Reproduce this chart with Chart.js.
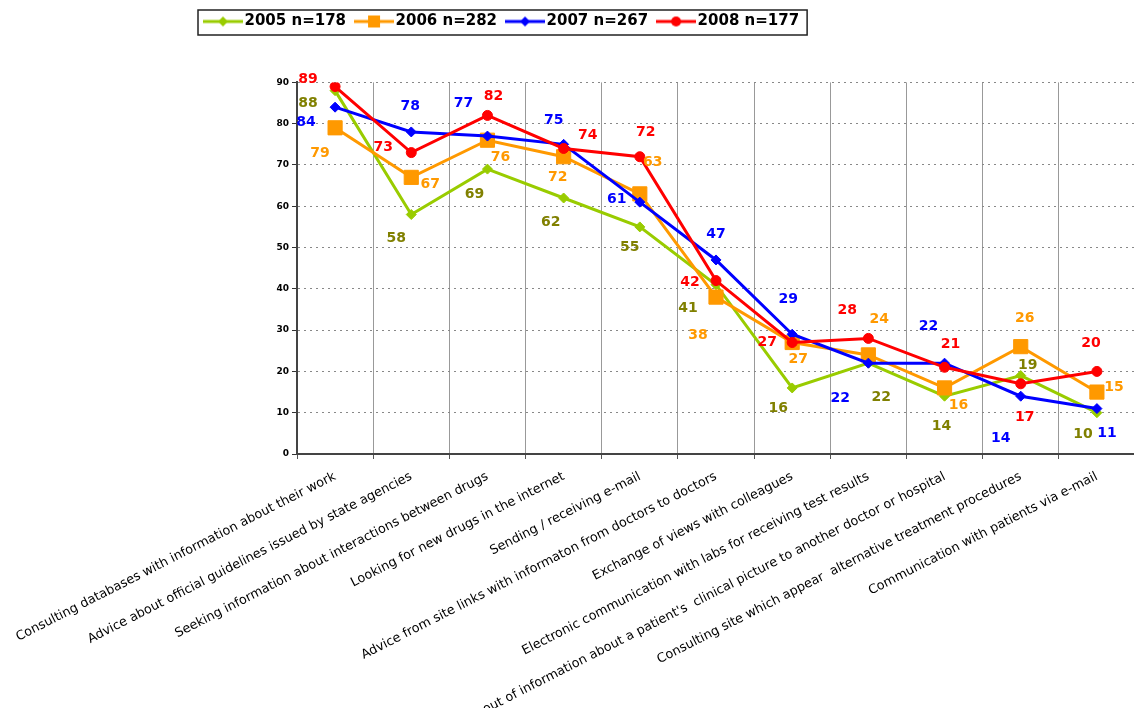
<!DOCTYPE html>
<html>
<head>
<meta charset="utf-8">
<script src="https://cdn.jsdelivr.net/npm/chart.js@4/dist/chart.umd.min.js"></script>
<style>
  html, body { margin: 0; padding: 0; background: #fff; overflow: hidden; }
  #wrap { width: 1146px; height: 708px; }
</style>
</head>
<body>
<div id="wrap"><canvas id="myChart" width="1146" height="708"></canvas></div>
<script>
// DATA
const categories = [
    'Consulting databases with information about their work',
    'Advice about official guidelines issued by state agencies',
    'Seeking information about interactions between drugs',
    'Looking for new drugs in the internet',
    'Sending / receiving e-mail',
    'Advice from site links with informaton from doctors to doctors',
    'Exchange of views with colleagues',
    'Electronic communication with labs for receiving test results',
    "Sending out of information about a patient's  clinical picture to another doctor or hospital",
    'Consulting site which appear  alternative treatment procedures',
    'Communication with patients via e-mail'
];
const seriesNames = ['2005 n=178', '2006 n=282', '2007 n=267', '2008 n=177'];
const values2005 = [88, 58, 69, 62, 55, 41, 16, 22, 14, 19, 10];
const values2006 = [79, 67, 76, 72, 63, 38, 27, 24, 16, 26, 15];
const values2007 = [84, 78, 77, 75, 61, 47, 29, 22, 22, 14, 11];
const values2008 = [89, 73, 82, 74, 72, 42, 27, 28, 21, 17, 20];
const yTickValues = [0, 10, 20, 30, 40, 50, 60, 70, 80, 90];

// estilos
const lineColors = ['#99CC00', '#FF9900', '#0000FF', '#FF0000'];
const labelColors = ['#808000', '#FF9900', '#0000FF', '#FF0000'];
const markers = ['rectRot', 'rect', 'rectRot', 'circle'];
const markerSizes = [5, 10, 5, 5];

// posicion de cada etiqueta respecto a su punto (dx, dy)
const labelOffsets = [
    [[-27, 13], [-15, 24], [-13, 25], [-13, 24], [-10, 20], [-28, 24], [-14, 20], [13, 34], [-3, 30], [7, -10], [-14, 22]],
    [[-15, 26], [19, 7], [13, 17], [-6, 21], [13, -32], [-18, 38], [6, 17], [11, -36], [14, 17], [4, -28], [17, -5]],
    [[-29, 15], [-1, -26], [-24, -33], [-10, -24], [-23, -3], [0, -26], [-4, -35], [-28, 35], [-16, -37], [-20, 42], [10, 25]],
    [[-27, -7], [-28, -5], [6, -19], [24, -13], [6, -24], [-26, 2], [-25, 0], [-21, -28], [6, -23], [4, 34], [-6, -28]]
];

// icono de la leyenda: linea con marcador
const makeLegendIcon = (color, style) => {
    const c = document.createElement('canvas');
    c.width = 40;
    c.height = 16;
    const g = c.getContext('2d');
    g.strokeStyle = color;
    g.fillStyle = color;
    g.lineWidth = 3;
    g.beginPath();
    g.moveTo(0, 8);
    g.lineTo(40, 8);
    g.stroke();
    g.beginPath();
    if (style === 'rect') {
        g.rect(14, 2, 12, 12);
    } else if (style === 'circle') {
        g.arc(20, 8, 5, 0, Math.PI * 2);
    } else {
        g.moveTo(20, 3);
        g.lineTo(25, 8);
        g.lineTo(20, 13);
        g.lineTo(15, 8);
        g.closePath();
    }
    g.fill();
    return c;
};
const legendIcons = lineColors.map((col, i) => makeLegendIcon(col, markers[i]));

const valueLabels = {
    id: 'valueLabels',
    afterDatasetsDraw(chart) {
        const ctx = chart.ctx;
        ctx.save();
        ctx.font = 'bold 14px "DejaVu Sans"';
        ctx.textAlign = 'center';
        ctx.textBaseline = 'middle';
        chart.data.datasets.forEach((ds, i) => {
            const meta = chart.getDatasetMeta(i);
            ctx.fillStyle = labelColors[i];
            meta.data.forEach((pt, j) => {
                const [dx, dy] = labelOffsets[i][j];
                ctx.fillText(ds.data[j], pt.x + dx, pt.y + dy);
            });
        });
        ctx.restore();
    }
};

const legendBox = {
    id: 'legendBox',
    afterLayout(chart) {
        // mover la leyenda hacia la izquierda como en el original
        chart.legend.left = 195;
    },
    afterDraw(chart) {
        const hits = chart.legend.legendHitBoxes;
        if (!hits || !hits.length) return;
        const first = hits[0];
        const last = hits[hits.length - 1];
        const ctx = chart.ctx;
        ctx.save();
        ctx.strokeStyle = '#222';
        ctx.lineWidth = 1.5;
        ctx.strokeRect(first.left - 11, first.top - 4, last.left + last.width + 8 - (first.left - 11), first.height + 10);
        ctx.restore();
    }
};

const makeDataset = (i, data) => ({
    label: seriesNames[i],
    data,
    borderColor: lineColors[i],
    backgroundColor: lineColors[i],
    pointBackgroundColor: lineColors[i],
    pointBorderColor: lineColors[i],
    pointStyle: markers[i],
    pointRadius: markerSizes[i],
    pointBorderWidth: 1,
    borderWidth: 3,
    tension: 0,
    order: 4 - i
});

const ctx = document.querySelector('#myChart');
const chart = new Chart(ctx, {
    type: 'line',
    data: {
        labels: categories,
        datasets: [
            makeDataset(0, values2005),
            makeDataset(1, values2006),
            makeDataset(2, values2007),
            makeDataset(3, values2008)
        ]
    },
    options: {
        responsive: false,
        animation: false,
        layout: { padding: 0 },
        scales: {
            x: {
                offset: true,
                grid: {
                    offset: true,
                    color: '#999',
                    tickColor: '#555',
                    tickLength: 5
                },
                border: { color: '#444', width: 2 },
                ticks: {
                    autoSkip: false,
                    minRotation: 27,
                    maxRotation: 27,
                    padding: 10,
                    color: '#000',
                    font: { family: '"DejaVu Sans"', size: 12.8 }
                },
                afterFit: (scale) => {
                    scale.height = 254;
                    scale.paddingLeft = 0; // que la primera etiqueta no empuje el eje
                }
            },
            y: {
                min: 0,
                max: 90,
                afterBuildTicks: (scale) => {
                    scale.ticks = yTickValues.map(v => ({ value: v }));
                },
                grid: {
                    color: '#888',
                    tickColor: '#333',
                    tickLength: 5,
                    tickBorderDash: []
                },
                border: { color: '#444', width: 2, dash: [2, 4] },
                ticks: {
                    padding: 3,
                    color: '#000',
                    font: { family: '"DejaVu Sans"', size: 9, weight: 'bold' }
                },
                afterFit: (scale) => { scale.width = 297; }
            }
        },
        plugins: {
            tooltip: { enabled: false },
            title: {
                display: true,
                text: ' ',
                weight: 500,
                padding: { top: 0, bottom: 29 },
                font: { size: 12 }
            },
            legend: {
                weight: 3000,
                align: 'start',
                labels: {
                    usePointStyle: true,
                    pointStyleWidth: 28,
                    padding: 14,
                    color: '#000',
                    font: { family: '"DejaVu Sans"', size: 15, weight: 'bold' },
                    sort: (a, b) => a.datasetIndex - b.datasetIndex,
                    generateLabels: (chart) => {
                        const items = Chart.defaults.plugins.legend.labels.generateLabels(chart);
                        items.forEach(item => { item.pointStyle = legendIcons[item.datasetIndex]; });
                        return items;
                    }
                }
            }
        }
    },
    plugins: [valueLabels, legendBox]
});
</script>
</body>
</html>
